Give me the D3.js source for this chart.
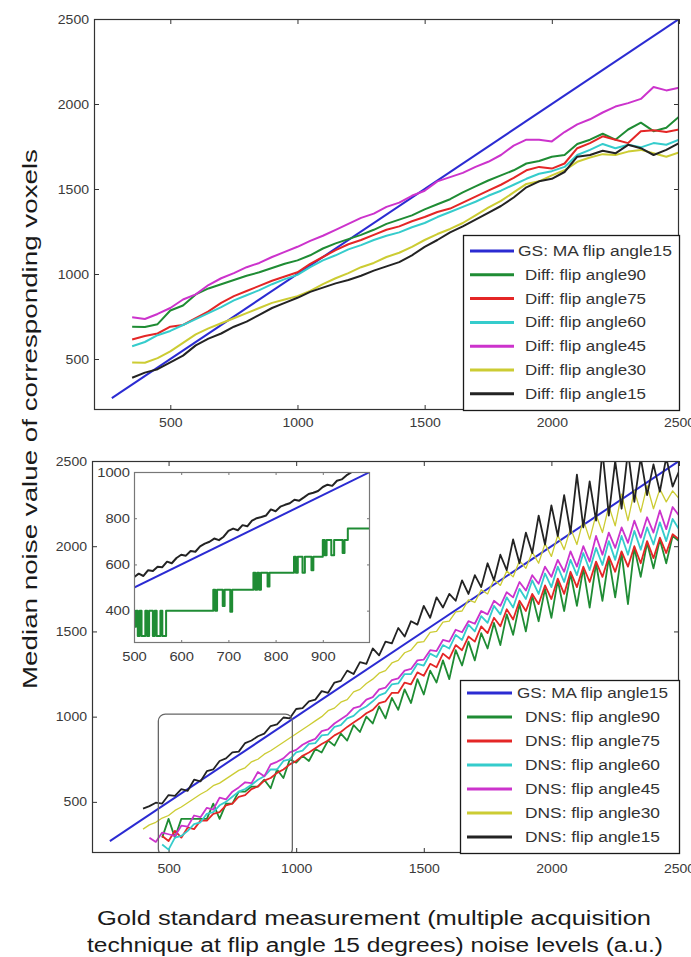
<!DOCTYPE html>
<html><head><meta charset="utf-8">
<script src="https://cdn.jsdelivr.net/npm/d3@7"></script>
<style>
html,body{margin:0;padding:0;background:#fff;}
svg{display:block;}
</style></head><body>
<svg id="chart" width="691" height="957"></svg>
<script>
// ---------------- DATA ----------------
const xTicks = [500, 1000, 1500, 2000, 2500];
const yTicks = [500, 1000, 1500, 2000, 2500];
const insetXTicks = [500, 600, 700, 800, 900];
const insetYTicks = [400, 600, 800, 1000];

const gsX = [270, 2500];
const gsY = [270, 2500];

// Top panel: Diff series
const topX = [350,400,450,500,550,600,650,700,750,800,850,900,950,1000,1050,1100,1150,1200,1250,1300,1350,1400,1450,1500,1550,1600,1650,1700,1750,1800,1850,1900,1950,2000,2050,2100,2150,2200,2250,2300,2350,2400,2450,2500];
const diff90 = [690,688,705,785,815,880,915,940,965,990,1010,1035,1060,1080,1110,1150,1180,1205,1230,1260,1295,1320,1345,1380,1410,1440,1480,1515,1550,1580,1610,1650,1665,1690,1700,1765,1790,1825,1790,1850,1890,1840,1860,1925];
const diff75 = [615,635,650,690,700,740,780,830,870,900,930,960,985,1010,1060,1100,1140,1175,1200,1230,1260,1280,1310,1335,1365,1385,1420,1455,1490,1525,1565,1610,1630,1620,1650,1740,1770,1810,1790,1770,1840,1845,1835,1850];
const diff60 = [575,600,640,665,700,735,770,805,845,875,905,940,970,995,1040,1080,1110,1145,1170,1200,1225,1245,1275,1300,1335,1365,1395,1425,1460,1490,1525,1560,1590,1605,1630,1700,1730,1765,1740,1760,1745,1770,1760,1790];
const diff45 = [745,735,765,800,850,880,935,975,1005,1040,1065,1100,1130,1160,1195,1225,1260,1295,1330,1355,1395,1420,1460,1490,1545,1570,1595,1630,1660,1700,1755,1790,1790,1780,1835,1880,1910,1950,1985,2005,2030,2100,2080,2095];
const diff30 = [480,478,505,545,595,645,680,710,740,770,800,830,850,870,900,940,975,1005,1040,1065,1100,1125,1160,1200,1235,1265,1300,1345,1390,1430,1480,1530,1545,1580,1610,1660,1685,1705,1700,1720,1730,1710,1690,1715];
const diff15 = [390,420,440,480,520,580,620,650,690,720,760,800,830,860,895,920,945,965,990,1020,1045,1070,1110,1160,1200,1245,1280,1320,1360,1400,1450,1510,1545,1560,1600,1690,1700,1725,1710,1760,1740,1700,1730,1770];

// Bottom panel: DNS series
const bottomX = [400,425,450,475,500,525,550,575,600,625,650,675,700,725,750,775,800,825,850,875,900,925,950,975,1000,1025,1050,1075,1100,1125,1150,1175,1200,1225,1250,1275,1300,1325,1350,1375,1400,1425,1450,1475,1500,1525,1550,1575,1600,1625,1650,1675,1700,1725,1750,1775,1800,1825,1850,1875,1900,1925,1950,1975,2000,2025,2050,2075,2100,2125,2150,2175,2200,2225,2250,2275,2300,2325,2350,2375,2400,2425,2450,2475,2500];
const dns90 = [null,null,null,290,400,290,400,400,400,400,400,490,400,490,490,560,560,590,590,630,580,690,640,750,730,770,740,810,790,860,830,900,860,950,910,1000,960,1060,990,1110,1040,1160,1080,1220,1130,1270,1200,1330,1220,1390,1300,1440,1330,1490,1400,1550,1420,1600,1480,1660,1500,1710,1560,1750,1580,1800,1620,1840,1650,1870,1640,1900,1680,1930,1700,1960,1660,1990,1820,2020,1870,2040,1900,2060,2030];
const dns75 = [null,null,null,300,270,330,290,350,340,390,390,430,440,480,490,530,540,575,590,625,640,670,690,720,740,770,790,815,840,860,890,910,940,965,990,1020,1040,1080,1090,1140,1140,1200,1190,1260,1240,1310,1290,1370,1340,1420,1390,1470,1440,1530,1490,1580,1530,1630,1570,1680,1620,1720,1660,1770,1690,1810,1720,1850,1760,1880,1790,1910,1820,1940,1850,1970,1880,2000,1900,2030,1930,2050,1960,2070,2040];
const dns60 = [null,null,null,250,220,290,300,330,370,380,430,440,480,500,530,560,575,600,630,650,690,690,740,750,790,800,840,845,890,895,940,950,990,1005,1040,1060,1090,1125,1140,1190,1195,1250,1250,1310,1300,1370,1350,1420,1400,1480,1450,1540,1500,1590,1550,1650,1600,1700,1640,1750,1690,1800,1720,1840,1760,1880,1790,1920,1830,1960,1860,1990,1890,2030,1920,2060,1950,2090,1980,2110,2010,2140,2030,2160,2100];
const dns45 = [null,290,265,320,310,300,360,355,420,410,465,455,525,515,560,585,615,610,675,650,720,735,755,790,805,835,855,870,915,925,960,985,1010,1050,1060,1100,1115,1160,1170,1215,1225,1270,1280,1330,1335,1390,1385,1450,1440,1510,1495,1560,1545,1620,1600,1680,1650,1730,1700,1790,1740,1830,1780,1880,1820,1920,1850,1970,1880,2000,1910,2060,1950,2080,1990,2110,2020,2150,2050,2170,2080,2210,2100,2230,2180];
const dns30 = [340,365,380,405,420,450,470,495,520,545,565,595,610,635,660,685,700,735,750,780,800,825,850,875,900,925,950,975,1000,1035,1050,1085,1100,1145,1160,1195,1220,1255,1270,1315,1330,1375,1390,1435,1440,1495,1500,1555,1560,1615,1620,1685,1670,1745,1720,1805,1770,1855,1820,1915,1870,1965,1900,2015,1940,2065,1980,2105,2010,2155,2040,2185,2080,2235,2120,2305,2150,2325,2200,2355,2220,2335,2260,2325,2280];
const dns15 = [460,475,495,490,540,535,575,565,630,620,680,690,740,755,790,795,845,860,885,900,945,955,995,990,1045,1050,1090,1100,1150,1140,1200,1210,1270,1250,1320,1310,1400,1360,1440,1430,1520,1470,1560,1540,1650,1580,1700,1640,1720,1680,1800,1720,1830,1760,1900,1800,1950,1860,2040,1900,2080,1960,2180,2010,2240,2060,2300,2080,2420,2110,2380,2150,2560,2180,2500,2220,2560,2260,2520,2300,2480,2320,2520,2350,2440];

// Inset (zoom of 500-1000)
const insetX = [500,510,520,530,540,550,560,570,580,590,600,610,620,630,640,650,660,670,680,690,700,710,720,730,740,750,760,770,780,790,800,810,820,830,840,850,860,870,880,890,900,910,920,930,940,950,960,970,980,990,1000];
const insetDns15 = [545,560,550,575,572,590,588,612,605,628,642,638,658,655,678,690,698,712,705,720,745,755,748,770,765,790,800,805,812,838,830,850,858,865,880,876,890,905,910,918,935,945,940,962,968,985,998,1008,1010,1015,1020];
const insetDns90X = [500,504,508,512,516,520,524,528,532,536,540,544,548,552,556,560,564,568,572,576,665,668,672,676,684,688,692,700,704,708,752,753,757,761,765,769,779,783,787,838,839,843,847,853,857,862,872,876,880,899,900,904,908,914,918,924,938,942,946,952,953,1000];
const insetDns90Y = [330,400,290,400,290,290,400,290,400,400,290,400,290,290,400,290,290,400,400,400,400,490,400,490,490,420,490,490,395,490,490,564,490,564,490,564,564,505,564,564,633,564,633,633,564,633,633,575,633,633,706,640,706,706,640,706,706,650,706,706,755,755];

const zoomBoxX = [460, 985];
const zoomBoxY = [200, 1015];

const topLabels = ["GS: MA flip angle15"," Diff: flip angle90"," Diff: flip angle75"," Diff: flip angle60"," Diff: flip angle45"," Diff: flip angle30"," Diff: flip angle15"];
const bottomLabels = ["GS: MA flip angle15"," DNS: flip angle90"," DNS: flip angle75"," DNS: flip angle60"," DNS: flip angle45"," DNS: flip angle30"," DNS: flip angle15"];
const seriesColors = ["#2b2bd2","#1f8c34","#e42626","#35cccc","#cc33cc","#cccc33","#232323"];

const yTitle = "Median noise value of corresponding voxels";
const xTitle1 = "Gold standard measurement (multiple acquisition";
const xTitle2 = "technique at flip angle 15 degrees) noise levels (a.u.)";

// ---------------- DRAW ----------------
const FONT = '"Liberation Sans", Arial, Helvetica, sans-serif';
const svg = d3.select('#chart');
svg.append('rect').attr('width',691).attr('height',957).attr('fill','#fff');
const defs = svg.append('defs');

function zip(xs, ys){ return xs.map((x,i)=>[x, ys[i]]); }

function panel(id, fr, xDom, yDom, xT, yT, opt){
  const g = svg.append('g');
  const x = d3.scaleLinear().domain(xDom).range([fr.x0, fr.x1]);
  const y = d3.scaleLinear().domain(yDom).range([fr.y1, fr.y0]);
  g.append('rect').attr('x',fr.x0).attr('y',fr.y0).attr('width',fr.x1-fr.x0).attr('height',fr.y1-fr.y0).attr('fill','#fff');
  const ts = opt.tick;
  const axG = g.append('g');
  axG.append('g').attr('transform',`translate(0,${fr.y1})`).call(d3.axisBottom(x).tickValues(xT).tickSizeInner(-ts).tickSizeOuter(0).tickPadding(opt.xPad).tickFormat(d=>String(d)));
  axG.append('g').attr('transform',`translate(0,${fr.y0})`).call(d3.axisTop(x).tickValues(xT).tickSizeInner(-ts).tickSizeOuter(0).tickFormat(''));
  axG.append('g').attr('transform',`translate(${fr.x0},0)`).call(d3.axisLeft(y).tickValues(yT).tickSizeInner(-ts).tickSizeOuter(0).tickPadding(opt.yPad).tickFormat(d=>String(d)));
  axG.append('g').attr('transform',`translate(${fr.x1},0)`).call(d3.axisRight(y).tickValues(yT).tickSizeInner(-ts).tickSizeOuter(0).tickFormat(''));
  axG.selectAll('.domain').remove();
  axG.selectAll('.tick line').attr('stroke',opt.axisColor).attr('stroke-width',1);
  axG.selectAll('.tick text').attr('font-family',FONT).attr('font-size',opt.fs).attr('fill','#3a3a3a')
    .each(function(){ const s=d3.select(this); const t=s.text(); if(t){ s.attr('textLength', t.length*opt.dw).attr('lengthAdjust','spacingAndGlyphs'); } });
  defs.append('clipPath').attr('id',id).append('rect').attr('x',fr.x0).attr('y',fr.y0).attr('width',fr.x1-fr.x0).attr('height',fr.y1-fr.y0);
  const plot = g.append('g').attr('clip-path',`url(#${id})`);
  const frame = ()=> g.append('rect').attr('x',fr.x0+0.5).attr('y',fr.y0+0.5).attr('width',fr.x1-fr.x0-1).attr('height',fr.y1-fr.y0-1).attr('fill','none').attr('stroke',opt.axisColor).attr('stroke-width',opt.frameW||1.2);
  return {g, x, y, plot, frame};
}

function drawLine(p, pts, color, w, curve){
  const line = d3.line().defined(d=>d[1]!=null).x(d=>p.x(d[0])).y(d=>p.y(d[1]));
  if(curve) line.curve(curve);
  p.plot.append('path').datum(pts).attr('d',line).attr('fill','none').attr('stroke',color).attr('stroke-width',w).attr('stroke-linejoin','round');
}

function legend(fr, labels, opt){
  const g = svg.append('g');
  g.append('rect').attr('x',fr.x0+0.5).attr('y',fr.y0+0.5).attr('width',fr.x1-fr.x0-1).attr('height',fr.y1-fr.y0-1).attr('fill','#fff').attr('stroke','#1a1a1a').attr('stroke-width',1.3);
  labels.forEach((lab,i)=>{
    const yy = opt.rowY0 + i*opt.rowStep;
    g.append('line').attr('x1',opt.sx0).attr('x2',opt.sx1).attr('y1',yy).attr('y2',yy).attr('stroke',seriesColors[i]).attr('stroke-width',3);
    g.append('text').attr('x', i===0?opt.tx0:opt.tx1).attr('y',yy+5).attr('font-family',FONT).attr('font-size',14).attr('fill','#333')
      .attr('textLength', i===0?opt.w0:opt.w1).attr('lengthAdjust','spacingAndGlyphs').text(lab.trim());
  });
}

// ----- top panel -----
const topFr = {x0:94, x1:679, y0:19, y1:410};
const pTop = panel('clipTop', topFr, [200,2500], [200,2500], xTicks, yTicks, {tick:5, xPad:8, yPad:5, fs:12.5, dw:7.8, axisColor:'#333'});
const topSeries = [diff90, diff75, diff60, diff45, diff30, diff15];
drawLine(pTop, zip(gsX, gsY), seriesColors[0], 2);
topSeries.forEach((s,i)=> drawLine(pTop, zip(topX, s), seriesColors[i+1], 2));
pTop.frame();
legend({x0:463, x1:680, y0:235, y1:411}, topLabels, {rowY0:251, rowStep:23.8, sx0:470, sx1:514, tx0:518, tx1:525, w0:154, w1:121});

// ----- bottom panel -----
const botFr = {x0:92, x1:679, y0:461, y1:853};
const pBot = panel('clipBot', botFr, [200,2500], [200,2500], xTicks, yTicks, {tick:5, xPad:11, yPad:5, fs:12.5, dw:7.8, axisColor:'#333'});
const botSeries = [dns90, dns75, dns60, dns45, dns30, dns15];
const botWidths = [1.8,1.8,1.8,1.8,1.3,1.8];
drawLine(pBot, zip(gsX, gsY), seriesColors[0], 2);
botSeries.forEach((s,i)=> drawLine(pBot, zip(bottomX, s), seriesColors[i+1], botWidths[i]));
pBot.plot.append('rect')
  .attr('x', pBot.x(zoomBoxX[0])).attr('y', pBot.y(zoomBoxY[1]))
  .attr('width', pBot.x(zoomBoxX[1]) - pBot.x(zoomBoxX[0]))
  .attr('height', pBot.y(zoomBoxY[0]) - pBot.y(zoomBoxY[1]) + 3)
  .attr('rx',7).attr('ry',7).attr('fill','none').attr('stroke','#666').attr('stroke-width',1.3);
pBot.frame();
legend({x0:460, x1:680, y0:680, y1:854}, bottomLabels, {rowY0:693, rowStep:24, sx0:467, sx1:512, tx0:517, tx1:525, w0:151, w1:135});

// ----- inset -----
const insFr = {x0:134, x1:370, y0:472, y1:643};
const pIns = panel('clipIns', insFr, [500,1000], [260,1000], insetXTicks, insetYTicks, {tick:3, xPad:9, yPad:4, fs:13, dw:8.2, axisColor:'#777'});
drawLine(pIns, zip(insetDns90X, insetDns90Y), seriesColors[1], 2, d3.curveStepAfter);
drawLine(pIns, zip(gsX, gsY), seriesColors[0], 2);
drawLine(pIns, zip(insetX, insetDns15), seriesColors[6], 2);
pIns.frame();

// ----- titles -----
svg.append('text').attr('transform','translate(37,419) rotate(-90)').attr('text-anchor','middle')
  .attr('font-family',FONT).attr('font-size',20).attr('fill','#1a1a1a')
  .attr('textLength',540).attr('lengthAdjust','spacingAndGlyphs').text(yTitle);
svg.append('text').attr('x',374).attr('y',925).attr('text-anchor','middle')
  .attr('font-family',FONT).attr('font-size',20).attr('fill','#1a1a1a')
  .attr('textLength',554).attr('lengthAdjust','spacingAndGlyphs').text(xTitle1);
svg.append('text').attr('x',375).attr('y',952).attr('text-anchor','middle')
  .attr('font-family',FONT).attr('font-size',20).attr('fill','#1a1a1a')
  .attr('textLength',576).attr('lengthAdjust','spacingAndGlyphs').text(xTitle2);
</script></body></html>
